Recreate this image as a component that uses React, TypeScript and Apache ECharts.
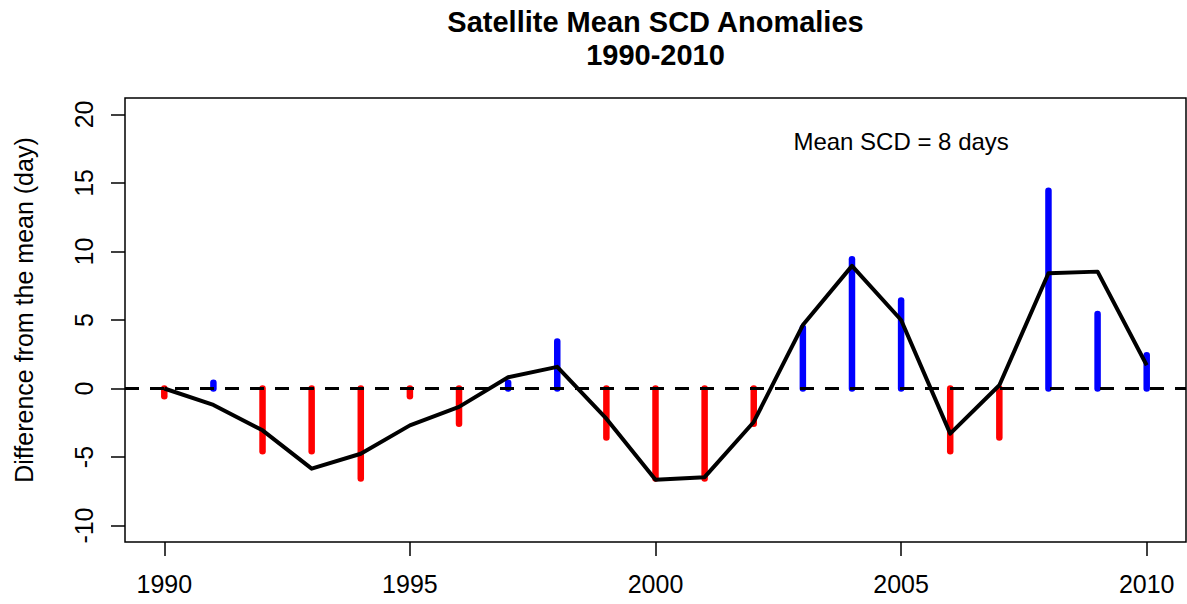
import React, { useEffect, useRef } from "react";
import * as echarts from "echarts";

// Snow cover duration (SCD) anomalies from the satellite record
const years = [1990, 1991, 1992, 1993, 1994, 1995, 1996, 1997, 1998, 1999, 2000,
  2001, 2002, 2003, 2004, 2005, 2006, 2007, 2008, 2009, 2010];
const anomalies = [-0.57, 0.43, -4.57, -4.57, -6.57, -0.57, -2.57, 0.43, 3.43, -3.57, -6.57,
  -6.57, -2.57, 4.43, 9.43, 6.43, -4.57, -3.57, 14.43, 5.43, 2.43];
const smoothed = [0, -1.2, -3.05, -5.85, -4.76, -2.69, -1.34, 0.82, 1.58, -2.2, -6.66,
  -6.47, -2.44, 4.63, 8.95, 5.0, -3.29, 0.24, 8.41, 8.53, 1.7];
const xTicks = [1990, 1995, 2000, 2005, 2010];
const yTicks = [-10, -5, 0, 5, 10, 15, 20];
const note = { x: 2005, y: 18, text: "Mean SCD = 8 days" };

const FONT = "'Liberation Sans', Arial, sans-serif";

export default function App() {
  const ref = useRef<HTMLDivElement>(null);

  useEffect(() => {
    if (!ref.current) return;
    const chart = echarts.init(ref.current, undefined, { renderer: "svg" });
    const gridLeft = 125;
    const gridRight = 1;
    const centerX = gridLeft + (1187 - gridLeft - gridRight) / 2;

    chart.setOption({
      animation: false,
      backgroundColor: "#ffffff",
      grid: {
        left: gridLeft,
        right: gridRight,
        top: 98,
        bottom: 62,
        show: true,
        borderColor: "#000000",
        borderWidth: 1.5,
        backgroundColor: "transparent",
      },
      xAxis: {
        type: "value",
        min: 1989.2,
        max: 2010.8,
        splitLine: { show: false },
        axisLine: { show: false, onZero: false },
        axisTick: {
          show: true,
          inside: false,
          length: 14,
          customValues: xTicks,
          lineStyle: { color: "#000", width: 1.5 },
        },
        axisLabel: {
          customValues: xTicks,
          formatter: (v: number) => String(v),
          margin: 29,
          fontSize: 25,
          fontFamily: FONT,
          color: "#000",
        },
      },
      yAxis: {
        type: "value",
        min: -11.2,
        max: 21.2,
        splitLine: { show: false },
        axisLine: { show: false, onZero: false },
        axisTick: {
          show: true,
          inside: false,
          length: 14,
          customValues: yTicks,
          lineStyle: { color: "#000", width: 1.5 },
        },
        axisLabel: {
          customValues: yTicks,
          formatter: (v: number) => String(v),
          rotate: 90,
          margin: 29,
          fontSize: 25,
          fontFamily: FONT,
          color: "#000",
        },
      },
      graphic: [
        {
          type: "text",
          x: centerX,
          y: 22,
          style: {
            text: "Satellite Mean SCD Anomalies",
            font: `bold 29px ${FONT}`,
            fill: "#000",
            align: "center",
            verticalAlign: "middle",
          },
        },
        {
          type: "text",
          x: centerX,
          y: 55,
          style: {
            text: "1990-2010",
            font: `bold 29px ${FONT}`,
            fill: "#000",
            align: "center",
            verticalAlign: "middle",
          },
        },
        {
          type: "text",
          x: 24,
          y: 310,
          rotation: Math.PI / 2,
          style: {
            text: "Difference from the mean (day)",
            font: `25px ${FONT}`,
            fill: "#000",
            align: "center",
            verticalAlign: "middle",
          },
        },
      ],
      series: [
        {
          // vertical stems: blue above the mean, red below
          type: "custom",
          z: 2,
          data: years.map((y, i) => [y, anomalies[i]]),
          renderItem: (_params: any, api: any) => {
            const x = api.value(0);
            const v = api.value(1);
            const p0 = api.coord([x, 0]);
            const p1 = api.coord([x, v]);
            return {
              type: "line",
              shape: { x1: p0[0], y1: p0[1], x2: p1[0], y2: p1[1] },
              style: {
                stroke: v >= 0 ? "#0000FF" : "#FF0000",
                lineWidth: 6.5,
                lineCap: "round",
              },
            };
          },
        },
        {
          type: "line",
          z: 4,
          data: years.map((y, i) => [y, smoothed[i]]),
          symbol: "none",
          lineStyle: { color: "#000", width: 4, join: "round" },
          markLine: {
            silent: true,
            symbol: "none",
            label: { show: false },
            lineStyle: { color: "#000", width: 3, type: [14, 11] },
            data: [{ yAxis: 0 }],
          },
        },
        {
          type: "scatter",
          z: 5,
          data: [[note.x, note.y]],
          symbolSize: 0,
          itemStyle: { opacity: 1, color: "#000" },
          label: {
            show: true,
            position: "inside",
            formatter: note.text,
            fontSize: 24,
            fontFamily: FONT,
            color: "#000",
            opacity: 1,
            textBorderWidth: 0,
          },
        },
      ],
    });

    return () => chart.dispose();
  }, []);

  return (
    <div
      ref={ref}
      style={{ position: "absolute", left: 0, top: 0, width: 1187, height: 604 }}
    />
  );
}
